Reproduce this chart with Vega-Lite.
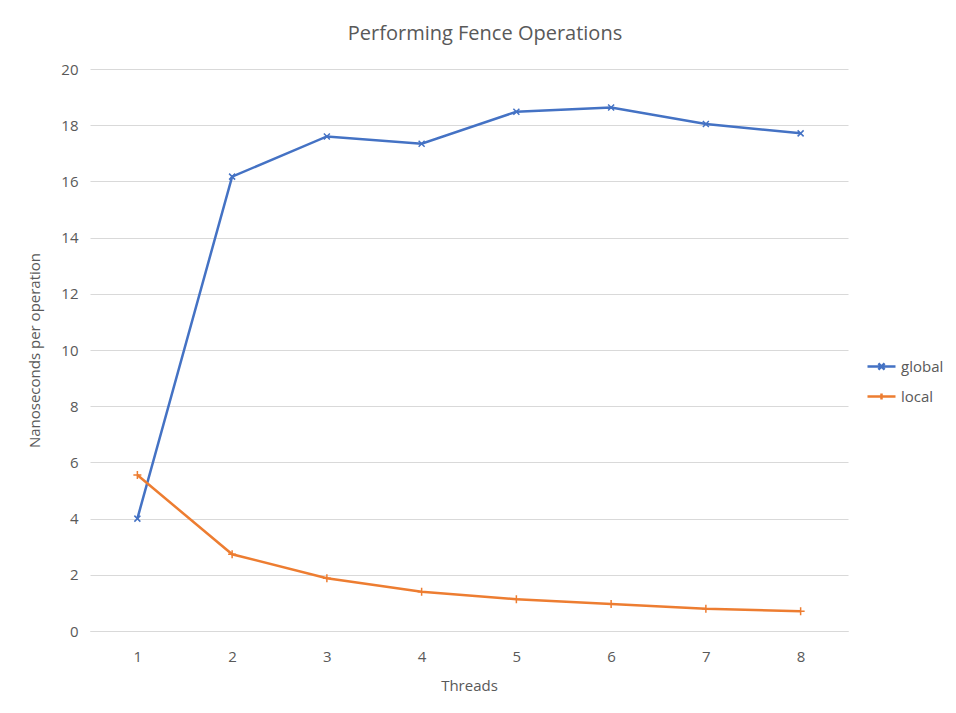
{
  "$schema": "https://vega.github.io/schema/vega-lite/v6.json",
  "width": 758,
  "height": 562,
  "autosize": {"type": "none"},
  "padding": {"left": 90, "top": 69, "right": 108, "bottom": 82},
  "background": "white",
  "title": {
    "text": "Performing Fence Operations",
    "fontSize": 20,
    "font": "Open Sans",
    "fontWeight": "normal",
    "color": "#595959",
    "offset": 18,
    "dx": 16
  },
  "config": {
    "view": {"stroke": null},
    "font": "Open Sans",
    "axis": {
      "labelColor": "#595959",
      "titleColor": "#595959",
      "labelFontSize": 15,
      "titleFontSize": 15,
      "titleFontWeight": "normal",
      "gridColor": "#d9d9d9",
      "gridWidth": 1,
      "domainColor": "#d9d9d9",
      "ticks": false,
      "labelOverlap": false
    }
  },
  "data": {
    "values": [
      {"threads": 1, "series": "global", "ns": 4.0},
      {"threads": 2, "series": "global", "ns": 16.17},
      {"threads": 3, "series": "global", "ns": 17.6},
      {"threads": 4, "series": "global", "ns": 17.34},
      {"threads": 5, "series": "global", "ns": 18.48},
      {"threads": 6, "series": "global", "ns": 18.63},
      {"threads": 7, "series": "global", "ns": 18.04},
      {"threads": 8, "series": "global", "ns": 17.71},
      {"threads": 1, "series": "local", "ns": 5.55},
      {"threads": 2, "series": "local", "ns": 2.73},
      {"threads": 3, "series": "local", "ns": 1.88},
      {"threads": 4, "series": "local", "ns": 1.40},
      {"threads": 5, "series": "local", "ns": 1.13},
      {"threads": 6, "series": "local", "ns": 0.96},
      {"threads": 7, "series": "local", "ns": 0.79},
      {"threads": 8, "series": "local", "ns": 0.70}
    ]
  },
  "encoding": {
    "x": {
      "field": "threads",
      "type": "ordinal",
      "scale": {"type": "point", "padding": 0.5},
      "axis": {"title": "Threads", "labelAngle": 0, "grid": false, "labelPadding": 18, "titlePadding": 14, "domain": true}
    },
    "y": {
      "field": "ns",
      "type": "quantitative",
      "scale": {"domain": [0, 20]},
      "axis": {"title": "Nanoseconds per operation", "values": [0,2,4,6,8,10,12,14,16,18,20], "domain": false, "labelPadding": 12, "titlePadding": 18}
    },
    "color": {
      "field": "series",
      "type": "nominal",
      "scale": {"domain": ["global", "local"], "range": ["#4472C4", "#ED7D31"]},
      "legend": {
        "title": null,
        "orient": "none",
        "legendX": 776,
        "legendY": 282,
        "symbolType": "M-1,0L1,0",
        "symbolSize": 784,
        "symbolStrokeWidth": 2.5,
        "labelFontSize": 15,
        "labelColor": "#595959",
        "labelOffset": 4,
        "rowPadding": 6,
        "encode": {
          "symbols": {
            "update": {
              "shape": {"signal": "datum.value === 'global' ? 'M-1,0L1,0M-0.22,-0.22L0.22,0.22M-0.22,0.22L0.22,-0.22' : 'M-1,0L1,0M0,-0.22L0,0.22'"}
            }
          }
        }
      }
    }
  },
  "layer": [
    {
      "mark": {"type": "line", "strokeWidth": 2.5}
    },
    {
      "transform": [{"filter": "datum.series === 'global'"}],
      "mark": {"type": "point", "shape": "M-1,-1L1,1M-1,1L1,-1", "filled": false, "size": 36, "strokeWidth": 1.5, "opacity": 1}
    },
    {
      "transform": [{"filter": "datum.series === 'local'"}],
      "mark": {"type": "point", "shape": "M-1,0L1,0M0,-1L0,1", "filled": false, "size": 64, "strokeWidth": 1.5, "opacity": 1}
    }
  ]
}
